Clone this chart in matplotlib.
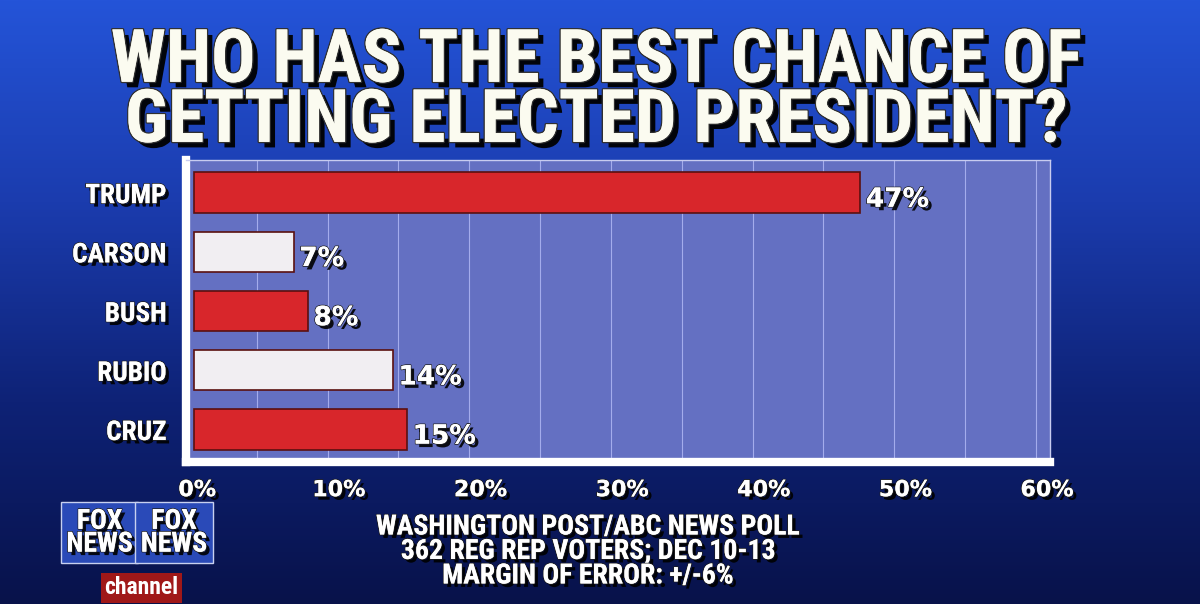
import numpy as np
import matplotlib.pyplot as plt
import matplotlib.patheffects as pe
from matplotlib import font_manager
from matplotlib.colors import LinearSegmentedColormap

# chart data
candidates = ['TRUMP', 'CARSON', 'BUSH', 'RUBIO', 'CRUZ']
shares = [47, 7, 8, 14, 15]
bar_colors = ['#d8262b', '#f1eef2', '#d8262b', '#f1eef2', '#d8262b']
tick_values = [0, 10, 20, 30, 40, 50, 60]
tick_labels = ['0%', '10%', '20%', '30%', '40%', '50%', '60%']

title = 'WHO HAS THE BEST CHANCE OF\nGETTING ELECTED PRESIDENT?'
source = 'WASHINGTON POST/ABC NEWS POLL\n362 REG REP VOTERS; DEC 10-13\nMARGIN OF ERROR: +/-6%'

# pick a narrow font if one is around, the TV graphic uses a condensed face
installed = {f.name for f in font_manager.fontManager.ttflist}
narrow = None
for name in ['Liberation Sans Narrow', 'DejaVu Sans Condensed', 'Roboto Condensed',
             'Open Sans Condensed', 'Noto Sans Condensed']:
    if name in installed:
        narrow = name
        break
FONT = [narrow, 'DejaVu Sans'] if narrow else ['DejaVu Sans']
scale = 1.0 if narrow else 0.82
WIDE = ['DejaVu Sans']

shadow = [pe.SimplePatchShadow(offset=(2.5, -2.5), shadow_rgbFace='black', alpha=0.9),
          pe.withStroke(linewidth=1.2, foreground='#202020'), pe.Normal()]

fig = plt.figure(figsize=(12, 6.04), dpi=100)

# blue studio background
bg = fig.add_axes([0, 0, 1, 1])
grad = np.linspace(0, 1, 256).reshape(-1, 1)
cmap = LinearSegmentedColormap.from_list('bg', ['#2454d8', '#1b3cae', '#0e2276', '#08124a'])
bg.imshow(grad, aspect='auto', cmap=cmap, extent=[0, 1, 0, 1], origin='upper')
bg.set_xlim(0, 1)
bg.set_ylim(0, 1)
bg.axis('off')

ax = fig.add_axes([0.155, 0.235, 0.72, 0.50])
ax.set_facecolor('#6470c2')
y = np.arange(len(candidates))
ax.barh(y, shares, left=0.6, height=0.68, color=bar_colors, edgecolor='#5a1010',
        linewidth=1.2, zorder=3)
for yi, v in zip(y, shares):
    ax.text(v + 1.0, yi + 0.12, f'{v}%', va='center', ha='left', color='white',
            fontsize=19, fontweight='bold', family=WIDE, path_effects=shadow, zorder=4)
ax.set_xlim(0, 61)
ax.set_ylim(len(candidates) - 0.45, -0.55)
ax.set_xticks(np.arange(0, 61, 5))
ax.grid(axis='x', color='#a4acec', linewidth=0.8, zorder=1)
ax.set_yticks(y)
ax.set_yticklabels(candidates)
ax.tick_params(length=0)
ax.set_xticklabels([])
for lbl in ax.get_yticklabels():
    lbl.set_color('white')
    lbl.set_fontsize(19.5 * scale)
    lbl.set_fontweight('bold')
    lbl.set_family(FONT)
    lbl.set_path_effects(shadow)
ax.tick_params(axis='y', pad=14)
for side in ['top', 'right']:
    ax.spines[side].set_color('#c8ccf0')
    ax.spines[side].set_linewidth(1)
for side in ['left', 'bottom']:
    ax.spines[side].set_color('white')
    ax.spines[side].set_linewidth(6)

# percent labels below the panel
for v, t in zip(tick_values, tick_labels):
    ax.text(v + 0.8, -0.06, t, transform=ax.get_xaxis_transform(), ha='center', va='top',
            color='white', fontsize=16, fontweight='bold', family=WIDE,
            path_effects=shadow)

fig.text(0.497, 0.848, title, ha='center', va='center', color='#fbfbf0',
         fontsize=(53 if narrow else 40), fontweight='bold', family=FONT, linespacing=0.82,
         path_effects=[pe.SimplePatchShadow(offset=(4, -4), shadow_rgbFace='black', alpha=0.95),
                       pe.withStroke(linewidth=2, foreground='#303030'), pe.Normal()])

fig.text(0.49, 0.087, source, ha='center', va='center', color='white', fontsize=20 * scale,
         fontweight='bold', family=FONT, linespacing=0.88, path_effects=shadow)

# network logo
for lx in [0.083, 0.145]:
    fig.text(lx, 0.118, 'FOX\nNEWS', ha='center', va='center', color='white',
             fontsize=20 * scale, fontweight='bold', family=FONT, linespacing=0.8,
             path_effects=shadow,
             bbox=dict(boxstyle='square,pad=0.2', facecolor='#2a4ab8', edgecolor='#c8d0f0',
                       linewidth=1))
fig.text(0.118, 0.027, 'channel', ha='center', va='center', color='white',
         fontsize=17 * scale, fontweight='bold', family=FONT,
         bbox=dict(boxstyle='square,pad=0.15', facecolor='#a01818', edgecolor='none'))

fig.savefig('out.png', dpi=100)
